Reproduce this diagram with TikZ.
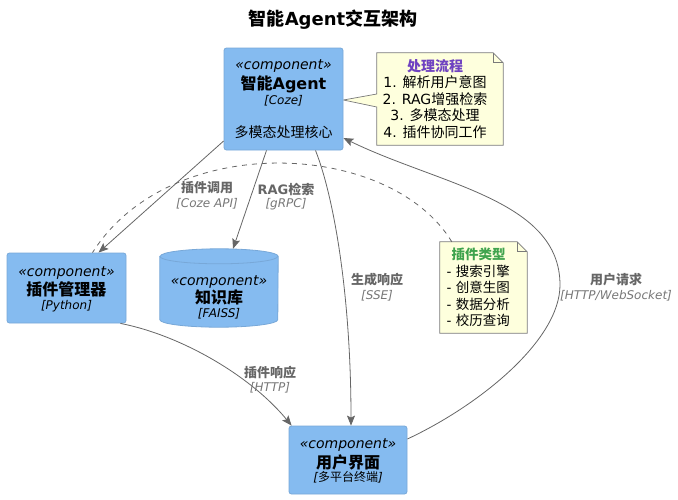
\documentclass[tikz,border=0pt]{standalone}
\usepackage{fontspec}
\setmainfont{DejaVu Sans}
\newfontfamily\cjk{Noto Sans CJK SC}
\newcommand\zh[1]{{\cjk #1}}
\usetikzlibrary{arrows.meta,backgrounds}

\definecolor{compbg}{HTML}{85BBF0}
\definecolor{compline}{HTML}{78A8D8}
\definecolor{notebg}{HTML}{FEFFDD}
\definecolor{noteline}{HTML}{7A7A7A}
\definecolor{relgray}{HTML}{666666}
\definecolor{techgray}{HTML}{777777}
\definecolor{flowpurple}{HTML}{6F42C1}
\definecolor{typegreen}{HTML}{3FA34D}

\tikzset{
  comp/.style={draw=compline, fill=compbg, rounded corners=2.5pt,
    minimum width=119pt, inner sep=0pt, line width=0.8pt},
  db/.style={minimum width=118pt, minimum height=78pt, inner sep=0pt},
  dbshape/.style={draw=compline, fill=compbg, line width=0.8pt},
  stereo/.style={inner sep=0pt, font=\fontsize{14}{16}\selectfont\itshape},
  cname/.style={inner sep=0pt, font=\fontsize{16}{18}\selectfont\bfseries},
  ctech/.style={inner sep=0pt, font=\fontsize{12}{14}\selectfont\itshape},
  cdesc/.style={inner sep=0pt, font=\fontsize{14}{16}\selectfont},
  lbl/.style={inner sep=0pt, text=relgray, font=\fontsize{13}{15}\selectfont\bfseries},
  tech/.style={inner sep=0pt, text=techgray, font=\fontsize{12}{14}\selectfont\itshape},
  notebox/.style={draw=noteline, fill=notebg, line width=0.7pt},
  rel/.style={draw=relgray, line width=0.8pt,
    -{Stealth[length=10pt,width=8pt,inset=2pt]}},
  notelink/.style={draw=relgray, line width=0.8pt, dash pattern=on 5pt off 5pt}
}

\begin{document}
\begin{tikzpicture}[x=1pt,y=-1pt]
\useasboundingbox (0,0) rectangle (678,499);

\node[font=\fontsize{18}{20}\selectfont\bfseries] (title) at (333,20) {\zh{智能}Agent\zh{交互架构}};

% components
\node[comp, minimum height=102pt] (agent) at (283.5,99) {};
\node[stereo] (agent-st) at (283.5,66) {«component»};
\node[cname] (agent-name) at (283.5,84) {\zh{智能}Agent};
\node[ctech] (agent-tech) at (283.5,101) {[Coze]};
\node[cdesc] (agent-desc) at (283.5,132) {\zh{多模态处理核心}};

\node[comp, minimum height=70pt] (plugin) at (66.5,288) {};
\node[stereo] (plugin-st) at (66.5,273) {«component»};
\node[cname] (plugin-name) at (66.5,289) {\zh{插件管理器}};
\node[ctech] (plugin-tech) at (66.5,306) {[Python]};

% database drawn as cylinder
\node[db] (kb) at (219,288) {};
\draw[dbshape] ([yshift=-7.5pt]kb.north west) -- ([yshift=7.5pt]kb.south west)
  arc[start angle=180, end angle=360, x radius=59pt, y radius=7.5pt]
  -- ([yshift=-7.5pt]kb.north east)
  arc[start angle=0, end angle=180, x radius=59pt, y radius=7.5pt] -- cycle;
\draw[dbshape, fill=none] ([yshift=-7.5pt]kb.north west)
  arc[start angle=180, end angle=360, x radius=59pt, y radius=7.5pt];
\node[stereo] (kb-st) at (219,282) {«component»};
\node[cname] (kb-name) at (219,297) {\zh{知识库}};
\node[ctech] (kb-tech) at (219,314) {[FAISS]};

\node[comp, minimum width=118pt, minimum height=68pt] (ui) at (348,460) {};
\node[stereo] (ui-st) at (348,445) {«component»};
\node[cname] (ui-name) at (348,462) {\zh{用户界面}};
\node[ctech] (ui-tech) at (348,477) {[\zh{多平台终端}]};

% notes
\node[minimum width=116pt, minimum height=92pt, inner sep=0pt, align=center,
  font=\fontsize{14}{16.5}\selectfont] (note1) at (435,99)
  {{\bfseries\color{flowpurple}\zh{处理流程}}\\
   1. \zh{解析用户意图}\\
   2. RAG\zh{增强检索}\\
   3. \zh{多模态处理}\\
   4. \zh{插件协同工作}};

\node[minimum width=77pt, minimum height=91pt, inner xsep=6.5pt, inner ysep=0pt,
  text width=64pt, align=left, font=\fontsize{13.5}{16.5}\selectfont] (note2) at (478.5,287.5)
  {\makebox[\linewidth][c]{\bfseries\color{typegreen}\zh{插件类型}}\\
   - \zh{搜索引擎}\\
   - \zh{创意生图}\\
   - \zh{数据分析}\\
   - \zh{校历查询}};

\begin{pgfonlayer}{background}
\draw[notebox] (note1.north west) -- (note1.north east)
  -- ([xshift=10pt,yshift=-10pt]note1.north east) -- ([xshift=10pt]note1.south east)
  -- (note1.south west) -- ([yshift=-8pt]note1.west) -- ([yshift=-1pt]agent.east)
  -- ([yshift=5pt]note1.west) -- cycle;
\draw[notebox, fill=none] (note1.north east) -- ([yshift=-10pt]note1.north east)
  -- ([xshift=10pt,yshift=-10pt]note1.north east);
\draw[notebox] (note2.north west) -- (note2.north east)
  -- ([xshift=10pt,yshift=-10pt]note2.north east) -- ([xshift=10pt]note2.south east)
  -- (note2.south west) -- cycle;
\draw[notebox, fill=none] (note2.north east) -- ([yshift=-10pt]note2.north east)
  -- ([xshift=10pt,yshift=-10pt]note2.north east);
\end{pgfonlayer}

% connectors
\draw[notelink] ([xshift=12pt]note2.north west) .. controls (390,140) and (170,130) .. ([xshift=26pt]plugin.north);

\draw[rel] ([yshift=-42pt]agent.west) -- ([xshift=32pt]plugin.north);
\node[lbl] (call-name) at (207,188) {\zh{插件调用}};
\node[tech] (call-tech) at (207,204) {[Coze API]};

\draw[rel] ([xshift=-17pt]agent.south) -- ([xshift=14pt]kb.north);
\node[lbl] (rag-name) at (286,189) {RAG\zh{检索}};
\node[tech] (rag-tech) at (286,204) {[gRPC]};

\draw[rel] ([xshift=32pt]agent.south) .. controls (335,200) and (351,300) .. ([xshift=3pt]ui.north);
\node[lbl] (gen-name) at (377,280) {\zh{生成响应}};
\node[tech] (gen-tech) at (377,296) {[SSE]};

\draw[rel] ([yshift=21pt]ui.east) .. controls (480,405) and (560,340) .. (560,285)
  .. controls (560,200) and (440,185) .. ([yshift=-39pt]agent.east);
\node[lbl] (req-name) at (616,280) {\zh{用户请求}};
\node[tech] (req-tech) at (616,296) {[HTTP/WebSocket]};

\draw[rel] ([xshift=-6pt]plugin.south east) .. controls (180,335) and (250,375) .. ([xshift=3pt]ui.north west);
\node[lbl] (resp-name) at (270,373) {\zh{插件响应}};
\node[tech] (resp-tech) at (270,388) {[HTTP]};

\end{tikzpicture}
\end{document}
